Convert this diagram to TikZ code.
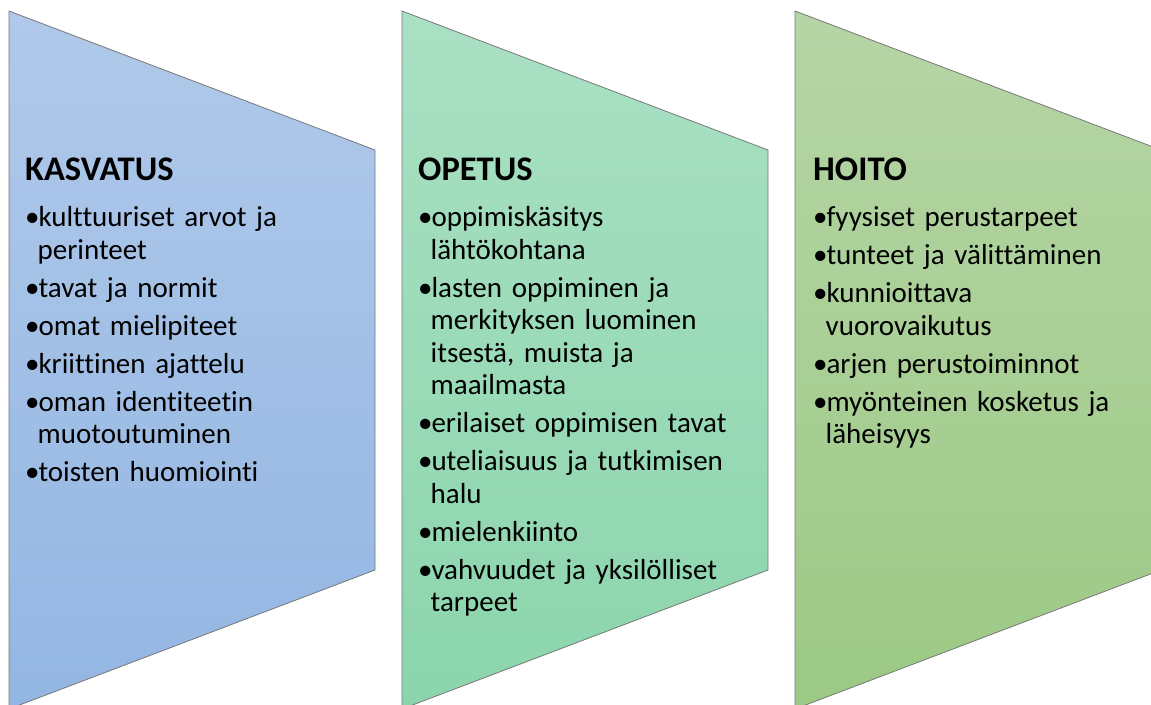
\documentclass[tikz,border=0pt]{standalone}
\usepackage{fontspec}
\setmainfont{Carlito}[Ligatures=NoCommon]
\definecolor{bluetop}{RGB}{176,201,234}
\definecolor{bluebot}{RGB}{147,182,226}
\definecolor{teeltop}{RGB}{170,224,196}
\definecolor{teelbot}{RGB}{139,213,172}
\definecolor{greentop}{RGB}{182,213,166}
\definecolor{greenbot}{RGB}{156,201,133}
\definecolor{edgegray}{RGB}{120,120,120}
\newlength{\bw}
\setlength{\bw}{12.5pt}
\newcommand{\nl}{\hfil\break}
\newcommand{\bitem}[1]{\par\hangindent=\bw\hangafter=1\noindent\makebox[\bw][l]{•}\hspace{0.8pt}#1}
\newcommand{\coltitle}[1]{\noindent\rule{0pt}{24pt}{\fontsize{34.5}{36}\selectfont\bfseries #1}\par\vspace{8.5pt}}
\tikzset{
  panel/.style={draw=edgegray, line width=0.8pt},
  coltext/.style={anchor=north west, inner sep=0pt, text width=345pt, align=left,
    font=\fontsize{29}{32.5}\selectfont}
}
\begin{document}
\begin{tikzpicture}[x=1pt,y=-1pt]
\useasboundingbox (0,0) rectangle (1151,704);
\clip (0,0) rectangle (1151,704);
\fill[white] (0,0) rectangle (1151,704);
% panels
\path[panel, top color=bluetop, bottom color=bluebot]
  (9,11) -- (375,150) -- (375,570) -- (9,709) -- cycle;
\path[panel, top color=teeltop, bottom color=teelbot]
  (402,11) -- (768,150) -- (768,570) -- (402,709) -- cycle;
\path[panel, top color=greentop, bottom color=greenbot]
  (795,11) -- (1161,150) -- (1161,570) -- (795,709) -- cycle;
% texts
\node[coltext] (kasvatus) at (25,156) {\setlength{\parskip}{5.5pt}%
\coltitle{KASVATUS}%
\bitem{kulttuuriset arvot ja\nl perinteet}
\bitem{tavat ja normit}
\bitem{omat mielipiteet}
\bitem{kriittinen ajattelu}
\bitem{oman identiteetin\nl muotoutuminen}
\bitem{toisten huomiointi}\par};
\node[coltext] (opetus) at (418,156) {\setlength{\parskip}{5.5pt}%
\coltitle{OPETUS}%
\bitem{oppimiskäsitys\nl lähtökohtana}
\bitem{lasten oppiminen ja\nl merkityksen luominen\nl itsestä, muista ja\nl maailmasta}
\bitem{erilaiset oppimisen tavat}
\bitem{uteliaisuus ja tutkimisen\nl halu}
\bitem{mielenkiinto}
\bitem{vahvuudet ja yksilölliset\nl tarpeet}\par};
\node[coltext] (hoito) at (813,156) {\setlength{\parskip}{5.5pt}%
\coltitle{HOITO}%
\bitem{fyysiset perustarpeet}
\bitem{tunteet ja välittäminen}
\bitem{kunnioittava\nl vuorovaikutus}
\bitem{arjen perustoiminnot}
\bitem{myönteinen kosketus ja\nl läheisyys}\par};
\end{tikzpicture}
\end{document}
